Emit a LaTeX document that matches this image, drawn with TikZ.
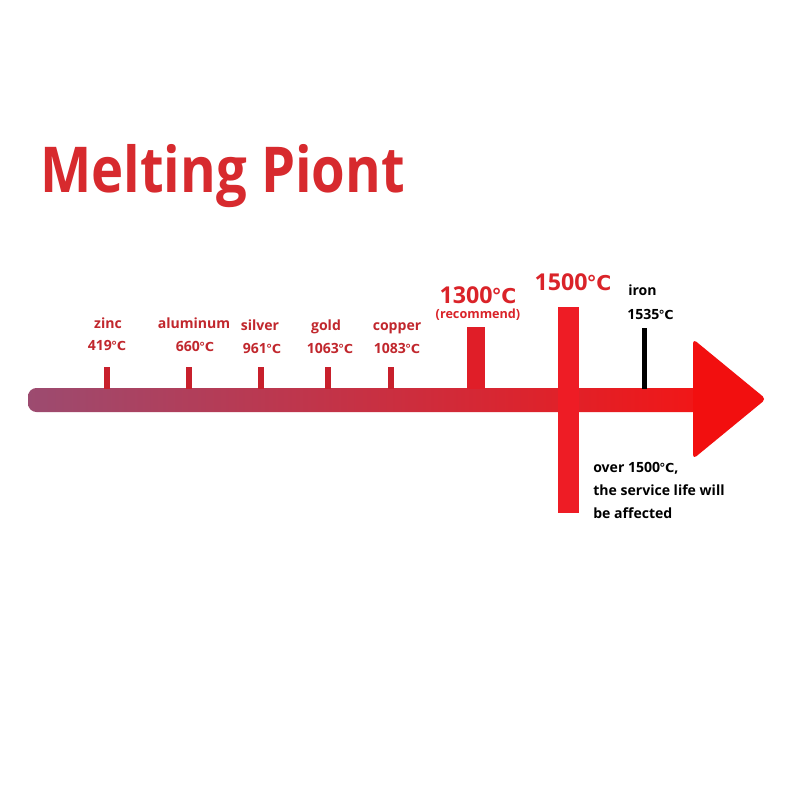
\documentclass[tikz,border=0pt]{standalone}
\usepackage{fontspec}
\setmainfont{Open Sans}
\newfontfamily\djv{DejaVu Sans}[Scale=0.88]
\newcommand\dC{{\kern-0.05em\djv ℃}}
\definecolor{titlered}{HTML}{D72A2E}
\definecolor{lblred}{HTML}{C1272D}
\definecolor{bigred}{HTML}{DA2329}
\definecolor{tickred}{HTML}{C8202C}
\definecolor{tickmid}{HTML}{E01E28}
\definecolor{tickbig}{HTML}{EE1C25}
\definecolor{barleft}{HTML}{9C4B70}
\definecolor{barmid}{HTML}{D42436}
\definecolor{barright}{HTML}{F21616}
\definecolor{headred}{HTML}{F20F0F}
\tikzset{
  lbl/.style={font=\fontsize{10}{12}\selectfont\bfseries, text=lblred, anchor=base, inner sep=0pt},
  biglbl/.style={font=\fontsize{16.5}{20}\selectfont\bfseries, text=bigred, anchor=base, inner sep=0pt},
  reclbl/.style={font=\fontsize{9}{11}\selectfont\bfseries, text=bigred, anchor=base, inner sep=0pt},
  blk/.style={font=\fontsize{10}{12}\selectfont\bfseries, text=black, anchor=base west, inner sep=0pt},
}
\begin{document}
\begin{tikzpicture}[x=0.25mm,y=-0.25mm]
\useasboundingbox[fill=white] (0,0) rectangle (800,800);
% title
\node[font=\fontsize{45}{50}\selectfont\bfseries, text=titlered, anchor=base west, inner sep=0pt, xscale=0.86] (title) at (40,192) {Melting Piont};
% bar
\shade[left color=barleft, middle color=barmid, right color=barright, rounded corners=6] (28,388) rectangle (705,412);
% arrow head
\fill[headred, rounded corners=3] (693,339) -- (766,399) -- (693,459) -- cycle;
% ticks
\fill[tickred] (104,367) rectangle (110,389);
\fill[tickred] (186,367) rectangle (192,389);
\fill[tickred] (258,367) rectangle (264,389);
\fill[tickred] (325,367) rectangle (331,389);
\fill[tickred] (388,367) rectangle (394,389);
\fill[tickmid] (467,327) rectangle (485,389);
\fill[tickbig] (558,307) rectangle (579,513);
\fill[black] (642,328) rectangle (647,389);
% labels
\node[lbl] (zinc) at (108,328) {zinc};
\node[lbl] (zincT) at (107,350) {419\dC};
\node[lbl] (alu) at (194,328) {aluminum};
\node[lbl] (aluT) at (195,351) {660\dC};
\node[lbl] (silver) at (260,330) {silver};
\node[lbl] (silverT) at (262,353) {961\dC};
\node[lbl] (gold) at (326,330) {gold};
\node[lbl] (goldT) at (330,353) {1063\dC};
\node[lbl] (copper) at (397,330) {copper};
\node[lbl] (copperT) at (397,353) {1083\dC};
\node[biglbl] (t1300) at (478,303) {1300\dC};
\node[reclbl] (rec) at (478,318) {(recommend)};
\node[biglbl] (t1500) at (573,290) {1500\dC};
\node[blk] (iron) at (628,295) {iron};
\node[blk] (ironT) at (627,319) {1535\dC};
\node[blk] (over1) at (593,472) {over 1500\dC,};
\node[blk] (over2) at (593,495) {the service life will};
\node[blk] (over3) at (593,518) {be affected};
\end{tikzpicture}
\end{document}
